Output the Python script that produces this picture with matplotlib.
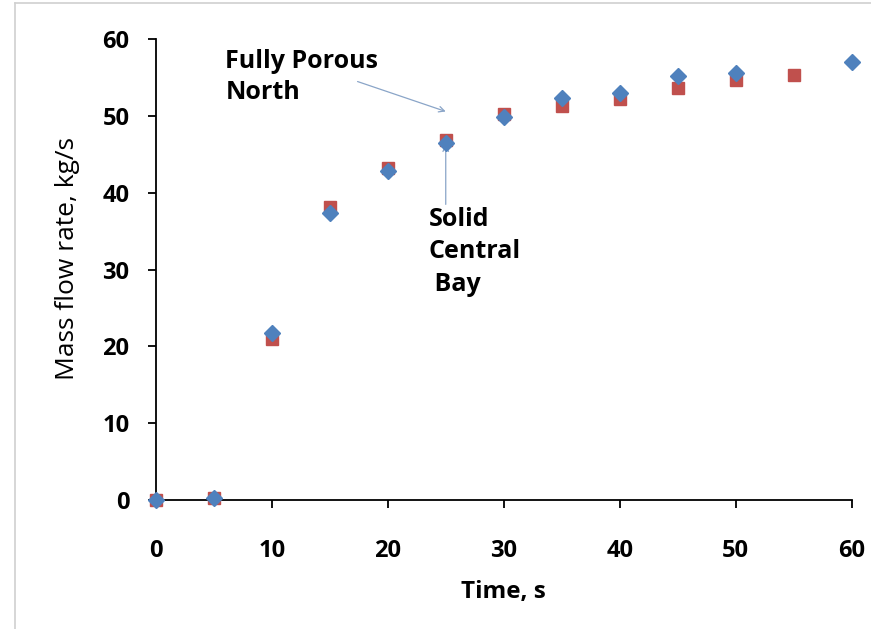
import matplotlib
matplotlib.use("Agg")
import matplotlib.pyplot as plt
from matplotlib.lines import Line2D

# Data
time_s = [0, 5, 10, 15, 20, 25, 30, 35, 40, 45, 50, 60]
fully_porous_north = [0.0, 0.2, 21.8, 37.4, 42.8, 46.5, 49.9, 52.3, 53.0, 55.2, 55.6, 57.1]

time_s_red = [0, 5, 10, 15, 20, 25, 30, 35, 40, 45, 50, 55]
solid_central_bay = [0.0, 0.2, 21.0, 38.1, 43.3, 46.9, 50.3, 51.3, 52.2, 53.6, 54.7, 55.3]

x_ticks = [0, 10, 20, 30, 40, 50, 60]
y_ticks = [0, 10, 20, 30, 40, 50, 60]

FONT = "Open Sans"
BLUE = "#4F81BD"
RED = "#C0504D"
ARROW = "#8AA5C8"

fig = plt.figure(figsize=(8.71, 6.29), dpi=100)
ax = fig.add_axes([0.1788, 0.2051, 0.7991, 0.7324])

ax.plot(time_s_red, solid_central_bay, linestyle="none", marker="s",
        markersize=8, color=RED, zorder=3, clip_on=False)
ax.plot(time_s, fully_porous_north, linestyle="none", marker="D",
        markersize=8, color=BLUE, zorder=4, clip_on=False)

ax.set_xlim(0, 60)
ax.set_ylim(0, 60)
ax.set_xticks(x_ticks)
ax.set_yticks(y_ticks)
ax.set_xticklabels([str(v) for v in x_ticks], fontfamily=FONT, fontweight="bold", fontsize=17)
ax.set_yticklabels([str(v) for v in y_ticks], fontfamily=FONT, fontweight="bold", fontsize=17)

for s in ["top", "right"]:
    ax.spines[s].set_visible(False)
for s in ["left", "bottom"]:
    ax.spines[s].set_linewidth(1.3)
    ax.spines[s].set_color("black")
ax.tick_params(direction="out", length=6, width=1.3)
ax.tick_params(axis="x", pad=22)
ax.tick_params(axis="y", pad=13)

ax.set_xlabel("Time, s", fontfamily=FONT, fontweight="bold", fontsize=17.5)
ax.xaxis.set_label_coords(0.5, -0.174)
ax.set_ylabel("Mass flow rate, kg/s", fontfamily=FONT, fontweight="normal", fontsize=19)
ax.yaxis.set_label_coords(-0.109, 0.525)

# Annotations
ax.annotate("", xy=(25.0, 50.6), xytext=(17.4, 54.5),
            arrowprops=dict(arrowstyle="->", color=ARROW, lw=0.9,
                            shrinkA=0, shrinkB=0))
ax.text(6.0, 55.1, "Fully Porous\nNorth", fontfamily=FONT, fontweight="bold",
        fontsize=18, ha="left", va="center", linespacing=1.35)

ax.annotate("", xy=(25.0, 46.3), xytext=(25.0, 38.5),
            arrowprops=dict(arrowstyle="->", color=ARROW, lw=0.9,
                            shrinkA=0, shrinkB=0))
ax.text(23.5, 32.3, "Solid\nCentral\n Bay", fontfamily=FONT, fontweight="bold",
        fontsize=18, ha="left", va="center", linespacing=1.42)

# faint chart-area border (left and top edges visible)
fig.add_artist(Line2D([15/871, 15/871], [0, 1 - 3/629], transform=fig.transFigure,
                      color="#D0D0D0", lw=1.2))
fig.add_artist(Line2D([15/871, 1], [1 - 3/629, 1 - 3/629], transform=fig.transFigure,
                      color="#D0D0D0", lw=1.2))

fig.savefig("out.png", dpi=100)
